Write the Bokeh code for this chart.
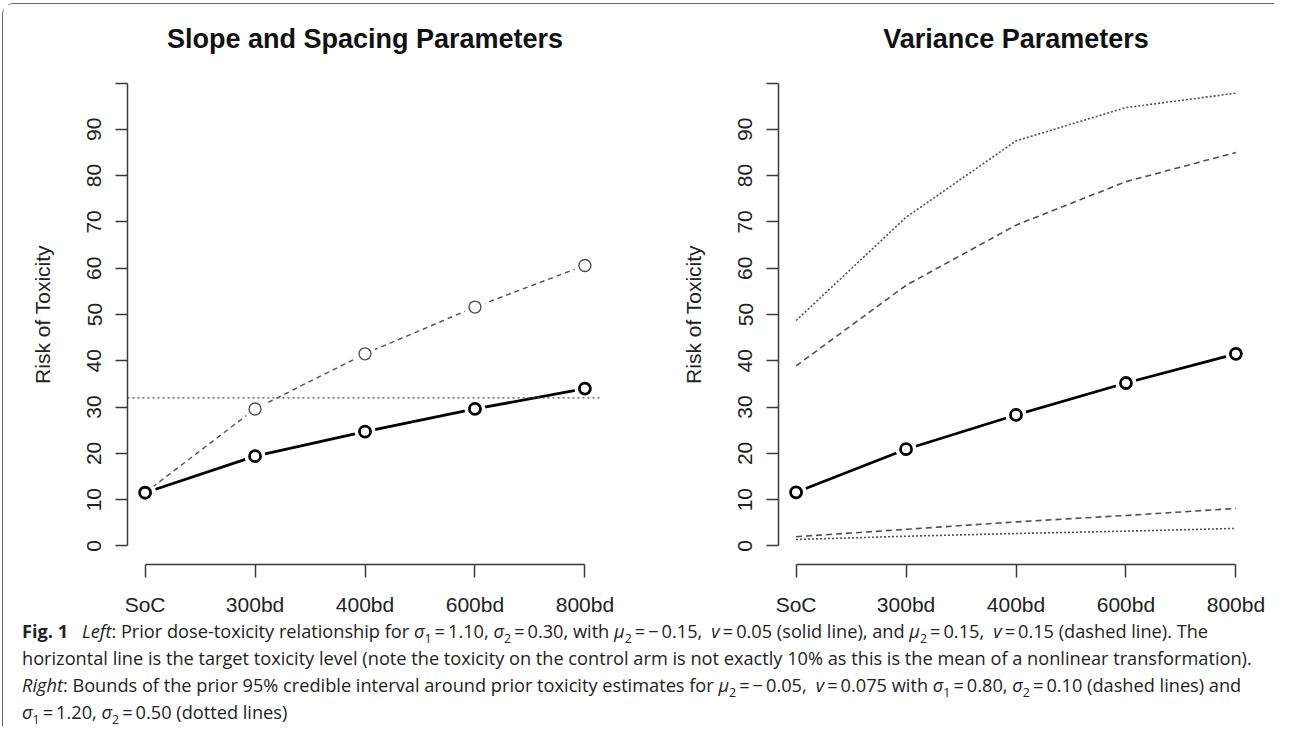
from bokeh.plotting import figure
from bokeh.models import FixedTicker, Span, Div, ColumnDataSource, Range1d
from bokeh.layouts import row, column
from bokeh.embed import file_html
from bokeh.resources import INLINE

# ---------------- data ----------------
doses = ["SoC", "300bd", "400bd", "600bd", "800bd"]

left_titles = "Slope and Spacing Parameters"
right_titles = "Variance Parameters"
y_label = "Risk of Toxicity"

# Left panel
left_solid = [11.5, 19.4, 24.7, 29.6, 34.0]      # mu2=-0.15, v=0.05
left_dashed = [11.5, 29.6, 41.5, 51.6, 60.6]     # mu2=0.15, v=0.15
target_level = 32.0

# Right panel
right_mean = [11.6, 20.9, 28.3, 35.2, 41.5]
right_dashed_upper = [38.9, 56.3, 69.3, 78.7, 85.0]
right_dashed_lower = [2.0, 3.6, 5.2, 6.6, 8.1]
right_dotted_upper = [48.7, 71.0, 87.5, 94.7, 97.8]
right_dotted_lower = [1.4, 2.1, 2.7, 3.2, 3.8]

y_ticks = [0, 10, 20, 30, 40, 50, 60, 70, 80, 90, 100]
y_tick_labels = ["0", "10", "20", "30", "40", "50", "60", "70", "80", "90", ""]

# --------------------------------------
xs = list(range(1, len(doses) + 1))
FONT = "Liberation Sans"
AX_COL = "#3a3a3a"
GRAY = "#505050"


def make_fig(title, width, mb_right):
    p = figure(width=width, height=614,
               x_range=Range1d(0.84, 5.16), y_range=Range1d(-4, 104),
               output_backend="svg", toolbar_location=None,
               min_border_left=124, min_border_right=mb_right,
               min_border_top=60, min_border_bottom=53,
               title=title)
    p.outline_line_color = None
    p.grid.visible = False
    p.background_fill_color = "white"
    p.border_fill_color = "white"

    p.title.text_font = FONT
    p.title.text_font_size = "27px"
    p.title.text_font_style = "bold"
    p.title.text_color = "#111111"
    p.title.align = "center"
    p.title.standoff = 22

    xa = p.xaxis[0]
    xa.ticker = FixedTicker(ticks=xs)
    xa.major_label_overrides = {x: d for x, d in zip(xs, doses)}
    xa.bounds = (xs[0], xs[-1])
    xa.minor_tick_line_color = None
    xa.major_tick_in = 0
    xa.major_tick_out = 13
    xa.major_label_standoff = 15
    xa.major_label_text_font = FONT
    xa.major_label_text_font_size = "21px"
    xa.major_label_text_color = "#222222"
    xa.axis_line_color = AX_COL
    xa.major_tick_line_color = AX_COL
    xa.axis_line_width = 1.5
    xa.major_tick_line_width = 1.5

    ya = p.yaxis[0]
    ya.ticker = FixedTicker(ticks=y_ticks)
    ya.major_label_overrides = {t: l for t, l in zip(y_ticks, y_tick_labels)}
    ya.bounds = (y_ticks[0], y_ticks[-1])
    ya.minor_tick_line_color = None
    ya.major_tick_in = 0
    ya.major_tick_out = 12
    ya.major_label_standoff = 14
    ya.major_label_orientation = "vertical"
    ya.major_label_text_font = FONT
    ya.major_label_text_font_size = "21px"
    ya.major_label_text_color = "#222222"
    ya.axis_line_color = AX_COL
    ya.major_tick_line_color = AX_COL
    ya.axis_line_width = 1.5
    ya.major_tick_line_width = 1.5
    ya.axis_label = y_label
    ya.axis_label_text_font = FONT
    ya.axis_label_text_font_size = "21px"
    ya.axis_label_text_font_style = "normal"
    ya.axis_label_text_color = "#222222"
    ya.axis_label_standoff = 31
    return p


def points_b(p, src, col, color, lw, size):
    # R type="b": white halo leaves a gap between line and symbol
    p.scatter("x", col, source=src, size=size + 10, fill_color="white",
              line_color=None)
    p.scatter("x", col, source=src, size=size, fill_color="white",
              line_color=color, line_width=lw)


# ---- left panel ----
src_l = ColumnDataSource(dict(x=xs, solid=left_solid, dashed=left_dashed))
p1 = make_fig(left_titles, 651, 52)
p1.line("x", "dashed", source=src_l, line_color=GRAY, line_width=1.4,
        line_dash="5 4")
p1.line("x", "solid", source=src_l, line_color="black", line_width=2.8)
points_b(p1, src_l, "dashed", GRAY, 1.4, 12)
points_b(p1, src_l, "solid", "black", 2.8, 11)
p1.add_layout(Span(location=target_level, dimension="width",
                   line_color=GRAY, line_width=1.4, line_dash="2 3"))

# ---- right panel ----
src_r = ColumnDataSource(dict(x=xs, mean=right_mean,
                              du=right_dashed_upper, dl=right_dashed_lower,
                              tu=right_dotted_upper, tl=right_dotted_lower))
p2 = make_fig(right_titles, 620, 21)
for c in ("du", "dl"):
    p2.line("x", c, source=src_r, line_color=GRAY, line_width=1.6,
            line_dash="6 4")
for c in ("tu", "tl"):
    p2.line("x", c, source=src_r, line_color=GRAY, line_width=1.6,
            line_dash="2 2")
p2.line("x", "mean", source=src_r, line_color="black", line_width=2.8)
points_b(p2, src_r, "mean", "black", 2.8, 11)

# ---- caption ----
sub = '<sub style="font-size:68%;line-height:0">{}</sub>'
eq = "&thinsp;=&thinsp;"
s1 = "<i>σ</i>" + sub.format("1")
s2 = "<i>σ</i>" + sub.format("2")
m2 = "<i>μ</i>" + sub.format("2")
v = "<i>v</i>"
line1 = ("<b>Fig.&nbsp;1</b>&ensp; <i>Left</i>: Prior dose-toxicity relationship for "
         f"{s1}{eq}1.10, {s2}{eq}0.30, with {m2}{eq}−&thinsp;0.15,&ensp;{v}{eq}0.05 (solid line), "
         f"and {m2}{eq}0.15,&ensp;{v}{eq}0.15 (dashed line). The")
line2 = ("horizontal line is the target toxicity level (note the toxicity on the control arm "
         "is not exactly 10% as this is the mean of a nonlinear transformation).")
line3 = ("<i>Right</i>: Bounds of the prior 95% credible interval around prior toxicity estimates for "
         f"{m2}{eq}−&thinsp;0.05,&ensp;{v}{eq}0.075 with {s1}{eq}0.80, {s2}{eq}0.10 (dashed lines) and")
line4 = f"{s1}{eq}1.20, {s2}{eq}0.50 (dotted lines)"
caption = Div(text="<br>".join([line1, line2, line3, line4]),
              width=1271, height=108, margin=(0, 0, 0, 0),
              styles={"font-family": "'Open Sans', sans-serif",
                      "font-size": "18.2px", "line-height": "27px",
                      "color": "#222222", "white-space": "nowrap",
                      "padding-left": "19px"})

layout = column(row(p1, p2, spacing=0), caption, spacing=0,
                styles={"border-top": "1px solid #666666",
                        "border-left": "1px solid #666666",
                        "border-top-left-radius": "12px",
                        "margin-left": "2px", "margin-top": "3px"})

open("out.html", "w").write(file_html(layout, INLINE))
